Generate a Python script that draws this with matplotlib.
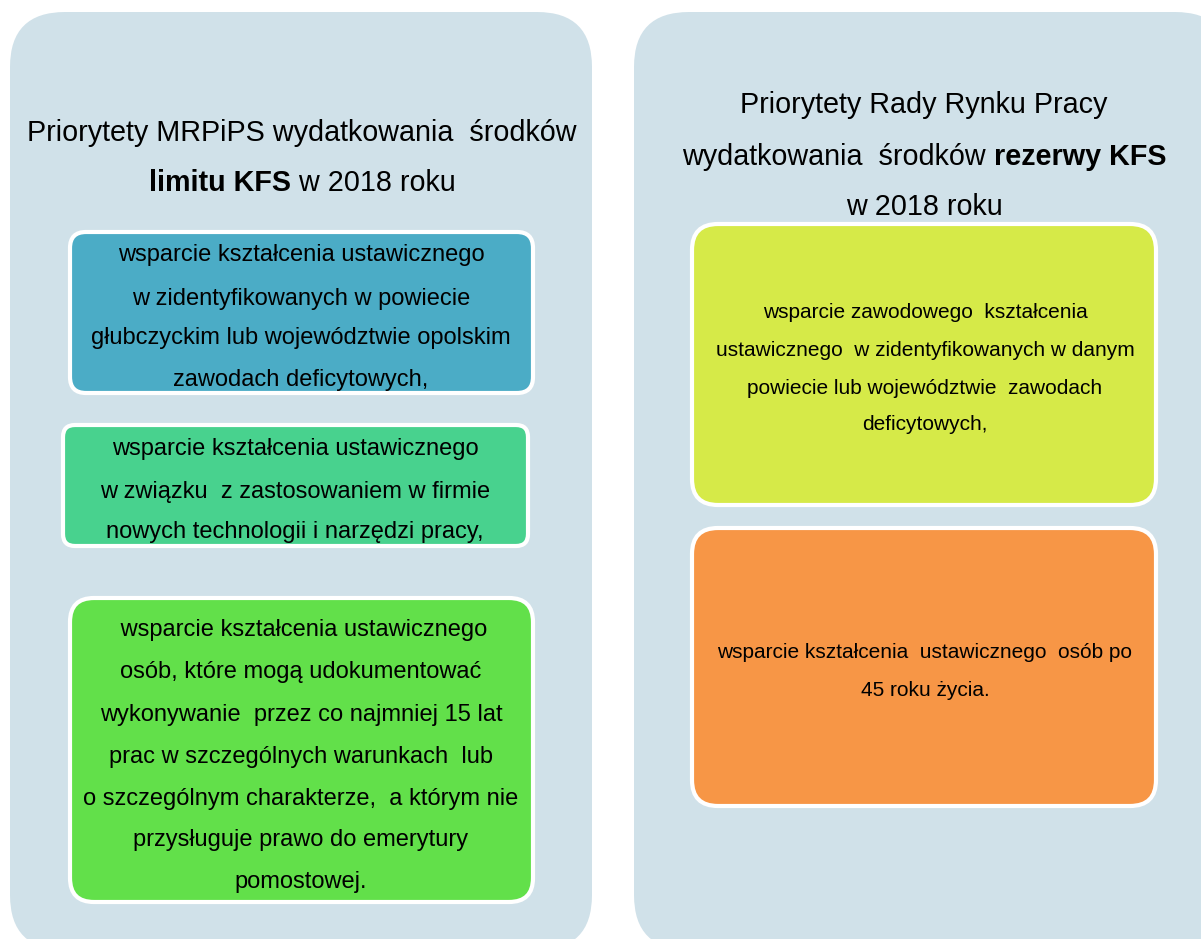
import matplotlib
matplotlib.use("Agg")
import matplotlib.pyplot as plt
from matplotlib.patches import FancyBboxPatch

plt.rcParams['font.family'] = ['Liberation Sans', 'DejaVu Sans']

# ---- content (texts) ----
left_title = [
    [("Priorytety MRPiPS wydatkowania  środków", "normal")],
    [("limitu KFS", "bold"), (" w 2018 roku", "normal")],
]
right_title = [
    [("Priorytety Rady Rynku Pracy", "normal")],
    [("wydatkowania  środków ", "normal"), ("rezerwy KFS", "bold")],
    [("w 2018 roku", "normal")],
]
box1_lines = ["wsparcie kształcenia ustawicznego",
              "w zidentyfikowanych w powiecie",
              "głubczyckim lub województwie opolskim",
              "zawodach deficytowych,"]
box2_lines = ["wsparcie kształcenia ustawicznego",
              "w związku  z zastosowaniem w firmie",
              "nowych technologii i narzędzi pracy,"]
box3_lines = [" wsparcie kształcenia ustawicznego",
              "osób, które mogą udokumentować",
              "wykonywanie  przez co najmniej 15 lat",
              "prac w szczególnych warunkach  lub",
              "o szczególnym charakterze,  a którym nie",
              "przysługuje prawo do emerytury",
              "pomostowej."]
box4_lines = ["wsparcie zawodowego  kształcenia",
              "ustawicznego  w zidentyfikowanych w danym",
              "powiecie lub województwie  zawodach",
              "deficytowych,"]
box5_lines = ["wsparcie kształcenia  ustawicznego  osób po",
              "45 roku życia."]

W, H = 1201, 939
fig = plt.figure(figsize=(W / 100, H / 100), dpi=100)
ax = fig.add_axes([0, 0, 1, 1])
ax.set_xlim(0, W)
ax.set_ylim(H, 0)
ax.axis('off')

PANEL = "#D0E1E9"


def rbox(x0, y0, x1, y1, r, fc, ec="none", lw=0):
    p = FancyBboxPatch((x0 + r, y0 + r), (x1 - x0) - 2 * r, (y1 - y0) - 2 * r,
                       boxstyle=f"round,pad={r}", fc=fc, ec=ec, lw=lw,
                       mutation_aspect=1)
    ax.add_patch(p)


# panels
rbox(10, 12, 592, 950, 55, PANEL)
rbox(634, 12, 1230, 950, 55, PANEL)

# inner boxes
boxes = [
    (70, 232, 533, 393, 16, "#4BACC6"),
    (63, 425, 528, 546, 12, "#48D28E"),
    (70, 598, 533, 902, 24, "#62E04A"),
    (692, 224, 1156, 505, 26, "#D6EA48"),
    (692, 528, 1156, 806, 26, "#F79646"),
]
for x0, y0, x1, y1, r, c in boxes:
    rbox(x0, y0, x1, y1, r, c, ec="white", lw=3)

fig.canvas.draw()
renderer = fig.canvas.get_renderer()


def rich_line(xc, y, parts, size):
    texts = []
    for s, w in parts:
        t = ax.text(0, y, s, fontsize=size, fontweight=w, ha='left', va='center',
                    color='black')
        texts.append(t)
    widths = [t.get_window_extent(renderer).width for t in texts]
    x = xc - sum(widths) / 2
    for t, wd in zip(texts, widths):
        t.set_x(x)
        x += wd


def lines(xc, ys, strs, size):
    for y, s in zip(ys, strs):
        ax.text(xc, y, s, fontsize=size, ha='center', va='center', color='black')


for y, parts in zip([133, 183], left_title):
    rich_line(302, y, parts, 20.7)
for y, parts in zip([105, 157, 207], right_title):
    rich_line(924, y, parts, 20.7)

lines(301, [255, 299, 338, 380], box1_lines, 17)
lines(295, [449, 492, 532], box2_lines, 17)
lines(301, [630, 672, 715, 757, 799, 840, 882], box3_lines, 17)
lines(925, [313, 351, 388, 425], box4_lines, 15)
lines(925, [653, 691], box5_lines, 15)

fig.savefig("out.png", dpi=100, facecolor="white")
